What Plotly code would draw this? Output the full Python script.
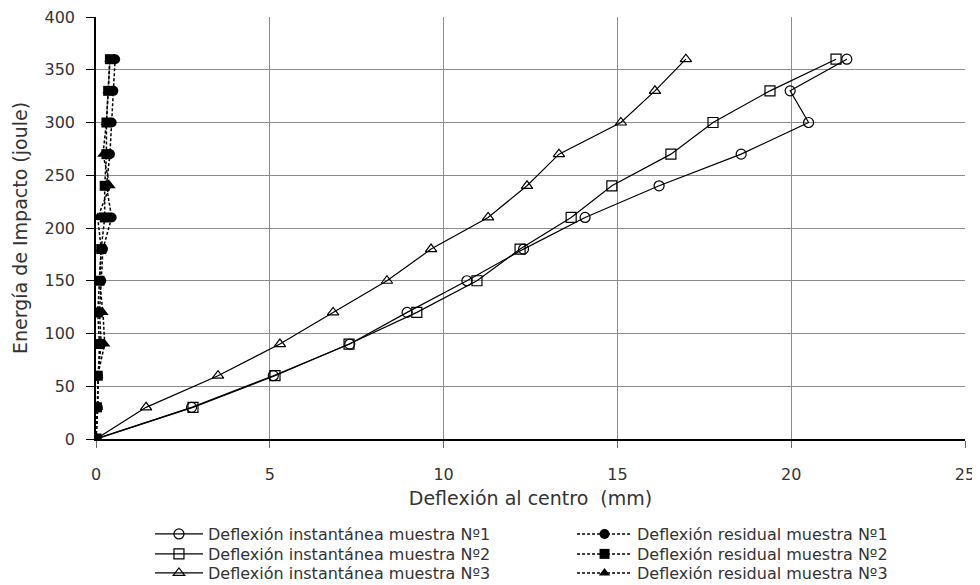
import plotly.graph_objects as go

energy = [0, 30, 60, 90, 120, 150, 180, 210, 240, 270, 300, 330, 360]

inst1 = [0, 2.75, 5.1, 7.3, 8.95, 10.67, 12.3, 14.07, 16.2, 18.56, 20.5, 19.97, 21.6]
inst2 = [0, 2.79, 5.15, 7.28, 9.23, 10.96, 12.2, 13.67, 14.84, 16.54, 17.75, 19.39, 21.29]
inst3 = [0, 1.44, 3.51, 5.29, 6.82, 8.37, 9.64, 11.28, 12.4, 13.32, 15.1, 16.08, 16.97]

res1 = [0, 0.05, 0.05, 0.15, 0.1, 0.15, 0.2, 0.45, 0.3, 0.4, 0.45, 0.5, 0.55]
res2 = [0, 0.03, 0.05, 0.1, 0.05, 0.1, 0.15, 0.25, 0.25, 0.3, 0.3, 0.35, 0.4]
res3 = [0, 0.05, 0.05, 0.25, 0.2, 0.1, 0.15, 0.05, 0.4, 0.2, 0.3, 0.35, 0.4]

names_inst = ["Deflexión instantánea muestra Nº1", "Deflexión instantánea muestra Nº2",
              "Deflexión instantánea muestra Nº3"]
names_res = ["Deflexión residual muestra Nº1", "Deflexión residual muestra Nº2",
             "Deflexión residual muestra Nº3"]
symbols = ["circle", "square", "triangle-up"]

legend_rows_y = [-0.1849, -0.2322, -0.2773]
leg_font = 16

fig = go.Figure()
legend_layout = {}
for i, (xs_i, xs_r, ni, nr, sym) in enumerate(zip([inst1, inst2, inst3], [res1, res2, res3],
                                                  names_inst, names_res, symbols)):
    li = "legend" if i == 0 else f"legend{2 * i + 1}"
    lr = f"legend{2 * i + 2}"
    fig.add_trace(go.Scatter(
        x=xs_i, y=energy, name=ni, mode="lines+markers", legend=li,
        line=dict(color="black", width=1.2),
        marker=dict(symbol=sym + "-open", size=10, color="black",
                    line=dict(color="black", width=1.2)),
    ))
    fig.add_trace(go.Scatter(
        x=xs_r, y=energy, name=nr, mode="lines+markers", legend=lr,
        line=dict(color="black", width=1.5, dash="3px,2px"),
        marker=dict(symbol=sym, size=10, color="black"),
    ))
    legend_layout[li] = dict(x=0.0621, xanchor="left", y=legend_rows_y[i], yanchor="top",
                             font=dict(size=leg_font), itemwidth=48,
                             bgcolor="rgba(0,0,0,0)")
    legend_layout[lr] = dict(x=0.5478, xanchor="left", y=legend_rows_y[i], yanchor="top",
                             font=dict(size=leg_font), itemwidth=55,
                             bgcolor="rgba(0,0,0,0)")

font_family = "DejaVu Sans, sans-serif"
txt_color = "#333333"
fig.update_layout(
    width=972, height=577,
    margin=dict(l=88, r=15, t=9, b=146, autoexpand=False),
    paper_bgcolor="white", plot_bgcolor="white",
    font=dict(family=font_family, color=txt_color, size=16),
    showlegend=True,
    **legend_layout,
)
fig.update_xaxes(
    range=[0, 25], dtick=5, showgrid=True, gridcolor="#8c8c8c", gridwidth=1.3,
    showline=True, linecolor="black", linewidth=1.5, ticks="outside", ticklen=7,
    tickcolor="#666", zeroline=False, ticklabelstandoff=13, ticklabeloverflow="allow",
    tickfont=dict(size=16),
    title=dict(text="Deflexión al centro  (mm)", font=dict(size=19), standoff=9),
)
fig.update_yaxes(
    range=[0, 400], dtick=50, showgrid=True, gridcolor="#8c8c8c", gridwidth=1.3,
    showline=True, linecolor="black", linewidth=1.5, ticks="outside", ticklen=8,
    tickcolor="black", zeroline=False, ticklabelstandoff=8, ticklabeloverflow="allow",
    tickfont=dict(size=16),
    title=dict(text="Energía de Impacto (joule)", font=dict(size=19), standoff=12),
)
fig.write_html("out.html")
